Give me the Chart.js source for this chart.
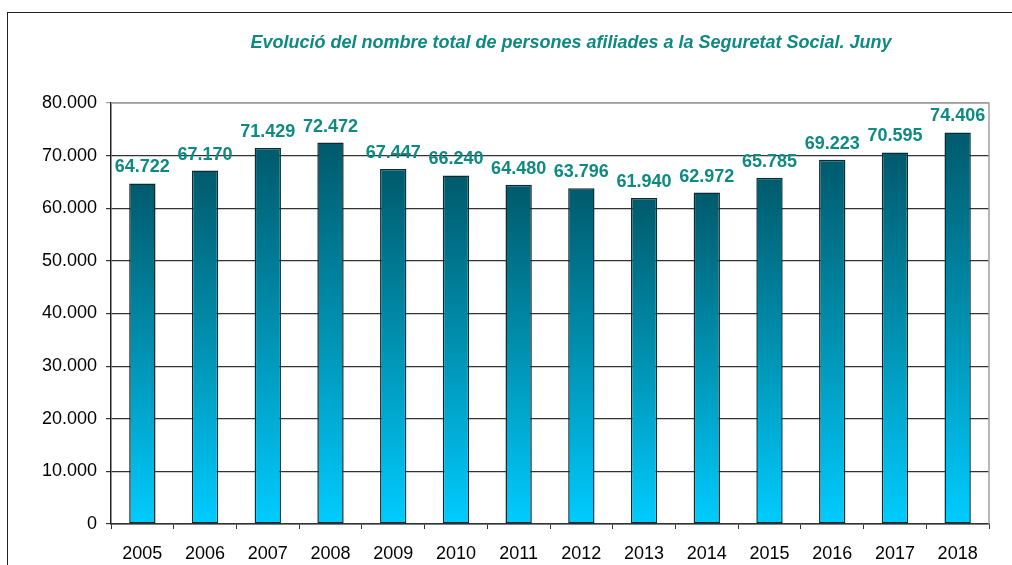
<!DOCTYPE html>
<html>
<head>
<meta charset="utf-8">
<script src="https://cdn.jsdelivr.net/npm/chart.js@4/dist/chart.umd.min.js"></script>
<style>
    html, body { margin: 0; padding: 0; background: #fff; overflow: hidden; }
    #wrap { position: relative; width: 1012px; height: 565px; }
    #frame { position: absolute; left: 7px; top: 12px; width: 1100px; height: 700px; border: 1.5px solid #222; box-sizing: border-box; }
    #title {
        position: absolute; left: 150px; width: 842px; top: 32px; text-align: center;
        font: italic bold 18px 'Liberation Sans', Arial, sans-serif; color: #0e8a82;
    }
    canvas { position: absolute; left: 0; top: 0; }
</style>
</head>
<body>
<div id="wrap">
    <div id="frame"></div>
    <canvas id="chart" width="1012" height="565"></canvas>
    <div id="title">Evolució del nombre total de persones afiliades a la Seguretat Social. Juny</div>
</div>
<script>
// Data
const years = ['2005', '2006', '2007', '2008', '2009', '2010', '2011', '2012', '2013', '2014', '2015', '2016', '2017', '2018'];
const afiliats = [64722, 67170, 71429, 72472, 67447, 66240, 64480, 63796, 61940, 62972, 65785, 69223, 70595, 74406];

const teal = '#0e8a82';
const fmt = v => v.toLocaleString('de-DE');

// Gradient per bar: dark teal at the top, cyan at the base
function barGradient(ctx) {
    const chart = ctx.chart;
    const y = chart.scales.y;
    if (!y || ctx.dataIndex === undefined) return '#0090b0';
    const top = y.getPixelForValue(ctx.raw);
    const bottom = y.getPixelForValue(0);
    if (!isFinite(top) || !isFinite(bottom) || top === bottom) return '#0090b0';
    const g = chart.ctx.createLinearGradient(0, top, 0, bottom);
    g.addColorStop(0, '#005a6c');
    g.addColorStop(0.5, '#0092b2');
    g.addColorStop(1, '#00ccff');
    return g;
}

// Value labels above bars
const valueLabels = {
    id: 'valueLabels',
    afterDatasetsDraw(chart) {
        const ctx = chart.ctx;
        const meta = chart.getDatasetMeta(0);
        ctx.save();
        ctx.font = "bold 18px 'Liberation Sans', Arial, sans-serif";
        ctx.fillStyle = teal;
        ctx.textAlign = 'center';
        ctx.textBaseline = 'alphabetic';
        meta.data.forEach((bar, i) => {
            ctx.fillText(fmt(afiliats[i]), bar.x, bar.y - 11);
        });
        ctx.restore();
    }
};

// Gray border on top and right of plot area
const plotBorder = {
    id: 'plotBorder',
    beforeDatasetsDraw(chart) {
        const { ctx, chartArea: a } = chart;
        ctx.save();
        ctx.strokeStyle = '#a0a0a0';
        ctx.lineWidth = 1.5;
        ctx.beginPath();
        ctx.moveTo(a.left, a.top);
        ctx.lineTo(a.right, a.top);
        ctx.lineTo(a.right, a.bottom);
        ctx.stroke();
        ctx.restore();
    }
};

Chart.defaults.font.family = "'Liberation Sans', Arial, sans-serif";
Chart.defaults.color = '#000';

new Chart(document.getElementById('chart'), {
    type: 'bar',
    data: {
        labels: years,
        datasets: [{
            data: afiliats,
            backgroundColor: barGradient,
            borderColor: '#0b2c33',
            borderWidth: 1.5,
            borderSkipped: false,
            barPercentage: 1,
            categoryPercentage: 0.42
        }]
    },
    options: {
        responsive: false,
        animation: false,
        layout: { padding: { top: 103, right: 23, left: 0, bottom: 0 } },
        plugins: { legend: { display: false }, tooltip: { enabled: false } },
        scales: {
            x: {
                afterFit: s => { s.height = 41; },
                grid: { drawOnChartArea: false, drawTicks: true, tickLength: 5, color: '#333', lineWidth: 1 },
                border: { color: '#333', width: 1.5 },
                ticks: { font: { size: 18 }, padding: 14, color: '#000' }
            },
            y: {
                min: 0,
                max: 80000,
                afterFit: s => { s.width = 111; },
                ticks: { stepSize: 10000, font: { size: 18 }, padding: 9, color: '#000', callback: v => fmt(v) },
                grid: {
                    tickLength: 5,
                    lineWidth: 1.2,
                    color: c => (c.tick && c.tick.value === 80000) ? '#a0a0a0' : '#333'
                },
                border: { color: '#222', width: 1.5 }
            }
        }
    },
    plugins: [plotBorder, valueLabels]
});
</script>
</body>
</html>
